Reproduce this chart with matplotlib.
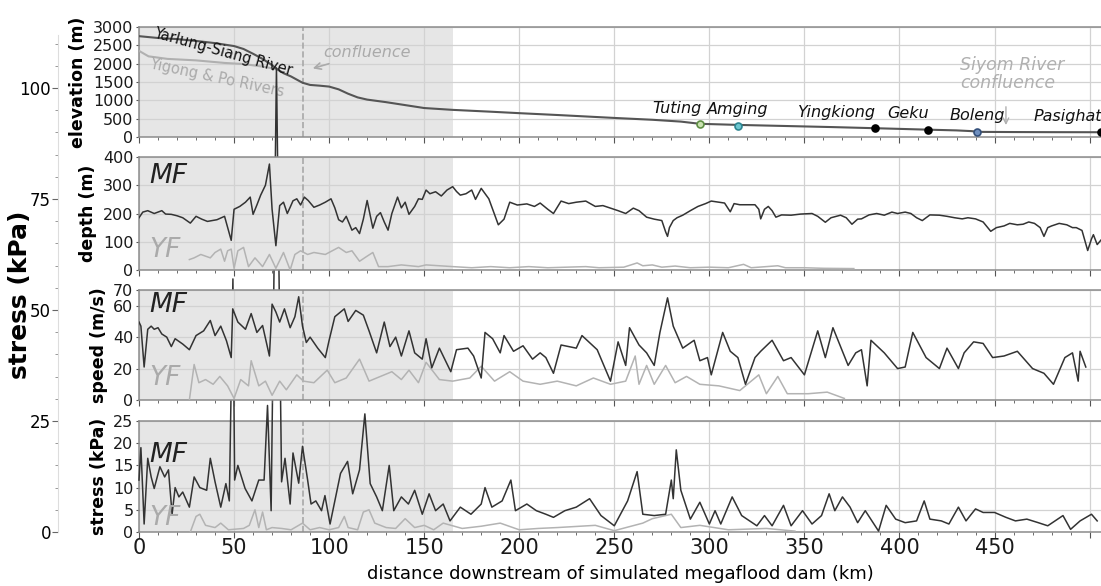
import matplotlib.pyplot as plt
from matplotlib.ticker import MultipleLocator

# ---- data ----
elev_main_km = [0, 10, 20, 30, 40, 50, 55, 60, 65, 70, 72.6, 76, 80, 86, 90, 95, 100, 105, 110, 115,
                120, 130, 140, 150, 165, 185, 200, 220, 250, 270, 285, 295, 315, 340, 365, 387, 415,
                430, 438, 441, 460, 480, 506]
elev_main_m = [2750, 2700, 2670, 2620, 2560, 2480, 2400, 2270, 2130, 1960, 1850, 1740, 1650, 1480, 1420,
               1400, 1375, 1300, 1180, 1080, 1020, 950, 870, 790, 740, 690, 650, 600, 520, 470, 420, 360,
               330, 300, 270, 240, 200, 180, 160, 140, 135, 132, 130]
elev_trib_km = [0, 5, 15, 30, 45, 55, 65, 72.6]
elev_trib_m = [2350, 2200, 2130, 2090, 2020, 1990, 1920, 1850]

stations = ['Tuting', 'Amging', 'Yingkiong', 'Geku', 'Boleng', 'Pasighat']
station_km = [295, 315, 387, 415, 441, 506]
station_m = [345, 310, 240, 200, 150, 130]
station_face = ['#c9e2b0', '#6cc6cf', 'black', 'black', '#6f8fbf', 'black']
station_edge = ['#5f8f45', '#2c8591', 'black', 'black', '#34507a', 'black']
station_ha = ['right', 'center', 'right', 'right', 'center', 'right']

depth_mf_km = [0, 2, 4.6, 8, 12, 14, 17, 20, 23, 27, 30, 33, 36, 41, 45, 48.5, 50, 53, 56, 58.5, 60, 62,
               64, 66.5, 68.6, 70, 72, 74, 76, 78, 79.5, 81, 83, 85, 87, 89, 92, 95, 98, 101, 103, 105,
               107, 109, 112, 114, 116, 118, 120, 123, 125, 127, 129, 131, 133, 136, 138, 140, 142, 145,
               147, 149, 151, 153, 156, 159, 162, 165, 167, 169, 172, 175, 177, 180, 184, 186, 189, 192,
               195, 199, 204, 208, 211, 215, 218, 222, 226, 230, 235, 240, 244, 248, 252, 256, 260, 263,
               267, 271, 275, 277, 278, 279, 281, 283, 286, 290, 294, 298, 301, 305, 308, 311, 313, 316,
               320, 324, 326, 327, 329, 331, 333, 335, 338, 343, 348, 354, 357, 361, 364, 369, 372, 375,
               378, 380, 384, 388, 392, 396, 399, 403, 406, 409, 412, 416, 421, 425, 429, 433, 436, 440,
               444, 448, 451, 455, 458, 462, 465, 468, 471, 474, 476, 478, 480, 484, 488, 491, 493, 496,
               499, 501, 502, 504, 506]
depth_mf = [185, 205, 210, 200, 210, 198, 197, 192, 185, 166, 190, 180, 172, 178, 190, 105, 215, 225, 240,
            258, 197, 230, 265, 300, 375, 215, 86, 228, 240, 200, 222, 245, 252, 230, 258, 246, 222, 230,
            240, 252, 220, 178, 170, 190, 141, 150, 129, 180, 246, 148, 190, 203, 170, 141, 200, 258, 220,
            240, 197, 225, 252, 250, 283, 270, 277, 262, 283, 295, 278, 265, 270, 283, 250, 289, 252, 215,
            160, 180, 240, 230, 234, 225, 237, 215, 200, 244, 235, 240, 244, 225, 228, 219, 210, 200, 219,
            210, 187, 180, 175, 135, 119, 150, 175, 185, 194, 210, 225, 235, 244, 240, 237, 206, 235, 231,
            231, 231, 215, 181, 215, 225, 210, 187, 195, 194, 198, 200, 190, 169, 185, 194, 185, 162, 180,
            181, 195, 200, 194, 205, 200, 205, 200, 185, 175, 195, 194, 190, 185, 181, 185, 181, 170, 137,
            150, 156, 165, 160, 162, 170, 165, 150, 119, 150, 156, 165, 160, 150, 150, 140, 69, 110, 125,
            90, 106]
depth_yf_km = [26.5, 29, 32.5, 37.5, 40, 43, 45, 46.6, 48.5, 50, 52, 55, 57.6, 61, 65, 68.6, 72, 76, 79.5,
               82, 85, 88.7, 92, 98, 105, 109, 112, 116, 120, 123, 126, 131, 138, 147, 151, 165, 175, 185,
               195, 205, 215, 225, 235, 242, 255, 262, 265, 270, 275, 282, 290, 300, 310, 318, 322, 336,
               340, 350, 360, 376]
depth_yf = [37, 43, 55, 43, 62, 74, 31, 68, 74, 6, 68, 80, 12, 43, 12, 55, 6, 62, 0, 55, 68, 55, 62, 55,
            80, 62, 68, 31, 49, 62, 12, 12, 18, 12, 18, 12, 8, 12, 8, 12, 8, 10, 12, 8, 10, 25, 15, 18, 10,
            14, 8, 10, 8, 20, 8, 15, 8, 8, 6, 5]

speed_mf_km = [0, 1, 2.7, 4.6, 6.4, 8, 10, 12, 14.6, 17, 19, 23, 26.5, 30, 34, 37.5, 40, 43, 46, 48.5,
               49.3, 52, 56, 59, 62, 65, 68.6, 70, 72, 74, 76.5, 79.5, 82, 84, 86, 88, 90, 94, 98, 100,
               103, 108, 110, 114, 118, 121, 125, 129, 132, 135, 138, 142, 145, 149, 151, 154, 158, 164,
               167, 173, 176, 180, 182, 186, 190, 192, 197, 202, 207, 211, 214, 218, 222, 230, 233, 241,
               248, 252, 256, 258, 263, 267, 271, 274, 278, 281, 286, 292, 295, 299, 301, 307, 311, 315,
               319, 324, 327, 333, 339, 343, 350, 357, 361, 365, 373, 377, 380, 383, 385, 392, 399, 403,
               407, 414, 421, 425, 431, 434, 439, 444, 449, 455, 462, 470, 476, 481, 487, 491, 494, 495,
               498]
speed_mf = [49.6, 47, 21, 45, 47, 45, 46, 42, 40, 34, 39, 35.6, 32, 41, 44, 50.6, 41, 47, 37.7, 27, 58,
            49.6, 45, 55, 43, 47.4, 28, 61, 56, 49.6, 58, 46, 53, 65.7, 47, 36.6, 40, 33, 27, 38, 53, 58,
            50, 57, 54, 44, 30, 49.6, 34, 40, 28, 44, 30, 26, 39, 20.5, 33, 18, 32, 33, 28, 14, 43, 39, 30,
            41, 31, 34.5, 26, 30, 27, 17, 35, 33, 41, 32, 12, 37, 22, 46, 35, 30, 22, 43, 65, 47, 33, 38,
            25, 27, 16, 43, 31, 27, 10, 27, 31, 38, 25, 27, 16, 44, 27, 46, 22, 30, 32, 9, 38, 30, 20, 21,
            43, 27, 20, 33, 20, 30, 37, 36, 27, 28, 31, 20, 17, 10, 27, 30, 12, 31, 21]
speed_yf_km = [26.5, 29, 31.5, 35, 39, 42.5, 46.6, 50, 53.5, 57.6, 59, 63, 66.5, 70, 74, 77.5, 83, 86.5,
               92, 99, 103, 109, 116, 121, 127, 133, 138, 142, 147, 151, 158, 165, 174, 180, 187, 195,
               202, 211, 220, 230, 239, 248, 256, 261, 263, 267, 271, 277, 282, 288, 295, 305, 316, 326,
               330, 336, 341, 352, 362, 371]
speed_yf = [0, 22.6, 11, 13, 10, 15, 9, 1, 13, 9, 25, 9, 12, 3, 12, 6.5, 16, 12, 11, 19, 11, 14, 26, 12,
            15, 18, 13, 19, 11, 24, 13, 12, 14, 21.5, 12, 18, 12, 10, 12, 9, 14, 10, 12, 28, 10, 22, 10,
            22, 11, 15, 10, 9, 6, 16, 4, 15, 4, 4, 5, 1]

stress_mf_km = [0, 1, 2.7, 4.6, 6.4, 8, 11, 13.5, 15.5, 17.4, 19, 21, 23, 26.5, 29, 32, 35.6, 37.5, 40,
                43, 45.7, 47.5, 49.4, 50.3, 52, 55.8, 59.4, 63, 65.8, 67.6, 69.5, 72.3, 75, 76.8, 79.5,
                81, 84, 86, 88.7, 90.5, 93, 96, 97.8, 100.5, 103, 106, 109.7, 112.4, 116, 118.8, 121.6,
                125, 128, 131.6, 134, 138, 141.7, 145, 149, 152.6, 156, 160, 163.6, 169, 174.6, 180,
                182, 185.6, 191, 195.6, 198, 204, 209, 214, 218, 224, 230, 237, 243, 250, 257, 262, 265,
                271, 277, 280, 281, 282.6, 285, 290, 295, 300, 303, 306, 312, 317, 325, 329, 333, 339,
                343, 349, 354, 359, 363, 366, 370, 374, 378, 382, 389, 393, 398, 403, 409, 413, 416, 422,
                426, 431, 435, 440, 444, 450, 456, 461, 467, 473, 478, 486, 490, 495, 501, 504]
stress_mf = [11.7, 19, 1.8, 16.6, 12.4, 9.8, 14.7, 12.4, 14, 4, 10, 7.9, 9, 5.6, 12.4, 10, 9.4, 16.6, 11.3,
             5.6, 10.9, 7, 57, 11.7, 15, 9.8, 7, 11.7, 11.7, 28.5, 4.8, 104.5, 11.3, 16.6, 6.3, 17.8, 11,
             19.3, 11.7, 6.3, 7, 4.8, 8.2, 1.8, 7, 13.2, 15.9, 8.6, 14, 26.6, 10.9, 7.9, 4.8, 15, 4.8, 7.9,
             6.3, 9.4, 4, 8.6, 4.8, 6.3, 2.5, 5.6, 4, 6.3, 10, 5.6, 7, 11.7, 4.8, 6.3, 4.8, 4, 3.3, 4.8,
             5.6, 7.5, 3.7, 1.4, 7, 13.6, 4, 3.7, 4, 11.7, 7.5, 18.5, 9.4, 2.9, 6.7, 1.8, 4.8, 1.8, 7.9,
             3.7, 1.4, 3.7, 1.4, 6, 1.4, 4.8, 1.8, 3.7, 8.6, 4.8, 7.9, 5.6, 2.1, 4.8, 0.2, 6, 2.9, 2.1,
             2.5, 7, 2.9, 2.5, 1.8, 5.6, 2.5, 5.2, 4.4, 4.4, 3.3, 2.5, 2.9, 2.1, 1.4, 3.7, 0.6, 2.5, 4,
             2.5]
stress_yf_km = [27, 30, 32, 35, 40, 43, 47, 55, 58, 61, 63, 65, 67, 70, 75, 80, 86, 90, 95, 100, 105, 108,
                110, 115, 118, 121, 124, 130, 135, 140, 145, 150, 155, 160, 170, 180, 190, 200, 210, 220,
                240, 250, 265, 270, 280, 285, 295, 310, 330, 345]
stress_yf = [0, 3.5, 4, 1.5, 1, 2, 0.5, 0.8, 1.5, 5, 1, 4.5, 0.5, 1, 0.8, 0.5, 2, 0.5, 1, 0.5, 1, 3.5,
             1, 0.5, 4.5, 5, 2, 1, 0.8, 3, 1, 1.5, 0.5, 2, 0.8, 1.3, 2, 0.5, 0.8, 1, 1.5, 0.3, 2, 3, 4,
             1, 1.5, 0.5, 0.8, 0.2]

x_ticks = list(range(0, 501, 50))
x_tick_labels = [str(t) for t in range(0, 451, 50)] + ['']

MF_COLOR = '#333333'
YF_COLOR = '#b3b3b3'
W, H = 1101, 586


# Figure-fraction box from pixel edges of the reference picture.
def box(left, top, right, bottom):
    return [left / W, 1 - bottom / H, (right - left) / W, (bottom - top) / H]


# Common look of the four stacked panels.
def style_panel(ax, ylim, yticks, ylabel):
    ax.set_xlim(0, 506)
    ax.set_ylim(*ylim)
    ax.set_yticks(yticks)
    ax.set_xticks(x_ticks)
    ax.xaxis.set_minor_locator(MultipleLocator(10))
    ax.set_axisbelow(True)
    ax.grid(True, which='major', color='#d2d2d2', lw=0.9)
    ax.axvspan(0, 165, color='#e6e6e6', lw=0, zorder=0.2)
    ax.axvline(86, color='#a8a8a8', ls='--', lw=1.2, zorder=1)
    for side in ['left', 'top', 'bottom']:
        ax.spines[side].set_color('#8c8c8c')
        ax.spines[side].set_linewidth(1.1)
    ax.spines['right'].set_visible(False)
    ax.tick_params(axis='both', which='both', direction='out', color='#555555',
                   labelsize=11.5, labelcolor='#1a1a1a', pad=1.5)
    ax.tick_params(axis='x', which='major', length=4)
    ax.tick_params(axis='x', which='minor', length=2.5)
    ax.tick_params(axis='y', length=2.5)
    ax.tick_params(axis='x', labelbottom=False)
    ax.set_ylabel(ylabel, fontsize=12.5, fontweight='bold', labelpad=4)


def add_tags(ax, y_mf, y_yf):
    ax.text(0.011, y_mf, 'MF', transform=ax.transAxes, fontsize=19, style='italic',
            color='#222222', va='center', zorder=5)
    ax.text(0.011, y_yf, 'YF', transform=ax.transAxes, fontsize=19, style='italic',
            color='#aaaaaa', va='center', zorder=5)


fig = plt.figure(figsize=(W / 100, H / 100), dpi=100)

# background stress scale that the off-scale spikes belong to
stress_px_per_kpa = (532 - 421) / 25
ax_bg = fig.add_axes(box(58, 532 - 112 * stress_px_per_kpa, 1101, 532), zorder=-1)
ax_bg.patch.set_visible(False)
ax_bg.set_ylim(0, 112)
ax_bg.set_xticks([])
ax_bg.set_yticks([0, 25, 50, 75, 100])
ax_bg.yaxis.set_minor_locator(MultipleLocator(5))
for side in ['top', 'right', 'bottom']:
    ax_bg.spines[side].set_visible(False)
ax_bg.spines['left'].set_color('#dddddd')
ax_bg.tick_params(axis='y', which='major', length=4, color='#666666', labelsize=12, pad=1)
ax_bg.tick_params(axis='y', which='minor', length=2, color='#888888')
ax_bg.set_ylabel('stress (kPa)', fontsize=18, fontweight='bold', va='center')
ax_bg.yaxis.set_label_coords((20 - 58) / (1101 - 58), 0.477)

ax_el = fig.add_axes(box(139, 27, 1101, 137), zorder=0)
ax_de = fig.add_axes(box(139, 157, 1101, 270), zorder=2)
ax_sp = fig.add_axes(box(139, 290, 1101, 400), zorder=2)
ax_st = fig.add_axes(box(139, 421, 1101, 532), zorder=1)

# elevation profile
style_panel(ax_el, (0, 3000), range(0, 3001, 500), 'elevation (m)')
ax_el.plot(elev_trib_km, elev_trib_m, color='#b0b0b0', lw=1.5, zorder=3)
ax_el.plot(elev_main_km, elev_main_m, color='#555555', lw=1.5, zorder=3)
for name, x, y, fc, ec, ha in zip(stations, station_km, station_m, station_face, station_edge, station_ha):
    ax_el.plot(x, y, 'o', ms=5, mfc=fc, mec=ec, mew=1.2, zorder=4, clip_on=False)
    ax_el.annotate(name, (x, y), xytext=(1 if ha == 'right' else 0, 6), textcoords='offset points',
                   ha=ha, va='bottom', fontsize=11.5, style='italic', color='#111111')
ax_el.text(44, 2330, 'Yarlung-Siang River', rotation=-15.5, ha='center', va='center',
           fontsize=10.5, color='#111111', zorder=5)
ax_el.text(41, 1600, 'Yigong & Po Rivers', rotation=-12, ha='center', va='center',
           fontsize=10.5, color='#aaaaaa', zorder=5)
ax_el.annotate('confluence', xy=(90, 1850), xytext=(97, 2300), fontsize=11.5, style='italic',
               color='#aaaaaa', ha='left', va='center',
               arrowprops=dict(arrowstyle='->', color='#aaaaaa', lw=1.2))
ax_el.text(432, 1720, 'Siyom River\nconfluence', fontsize=12.5, style='italic', color='#b0b0b0',
           ha='left', va='center', linespacing=1.05)
ax_el.annotate('', xy=(456, 250), xytext=(456, 900),
               arrowprops=dict(arrowstyle='->', color='#b0b0b0', lw=1))

# flow depth
style_panel(ax_de, (0, 400), range(0, 401, 100), 'depth (m)')
ax_de.plot(depth_yf_km, depth_yf, color=YF_COLOR, lw=1.1, zorder=3)
ax_de.plot(depth_mf_km, depth_mf, color=MF_COLOR, lw=1.1, zorder=3)
add_tags(ax_de, 0.83, 0.18)

# flow speed
style_panel(ax_sp, (0, 70), [0, 20, 40, 60, 70], 'speed (m/s)')
ax_sp.plot(speed_yf_km, speed_yf, color=YF_COLOR, lw=1.1, zorder=3)
ax_sp.plot(speed_mf_km, speed_mf, color=MF_COLOR, lw=1.1, zorder=3)
add_tags(ax_sp, 0.86, 0.2)

# bed shear stress, spikes run off the panel
style_panel(ax_st, (0, 25), range(0, 26, 5), 'stress (kPa)')
ax_st.plot(stress_yf_km, stress_yf, color=YF_COLOR, lw=1.1, zorder=3)
ax_st.plot(stress_mf_km, stress_mf, color=MF_COLOR, lw=1.1, zorder=3, clip_on=False)
add_tags(ax_st, 0.69, 0.13)
ax_st.set_xticklabels(x_tick_labels)
ax_st.tick_params(axis='x', labelbottom=True, labelsize=15, pad=0)
ax_st.set_xlabel('distance downstream of simulated megaflood dam (km)', fontsize=13, labelpad=2)
ax_st.xaxis.set_label_coords(0.5, -0.3)

fig.savefig('out.png', dpi=100)
